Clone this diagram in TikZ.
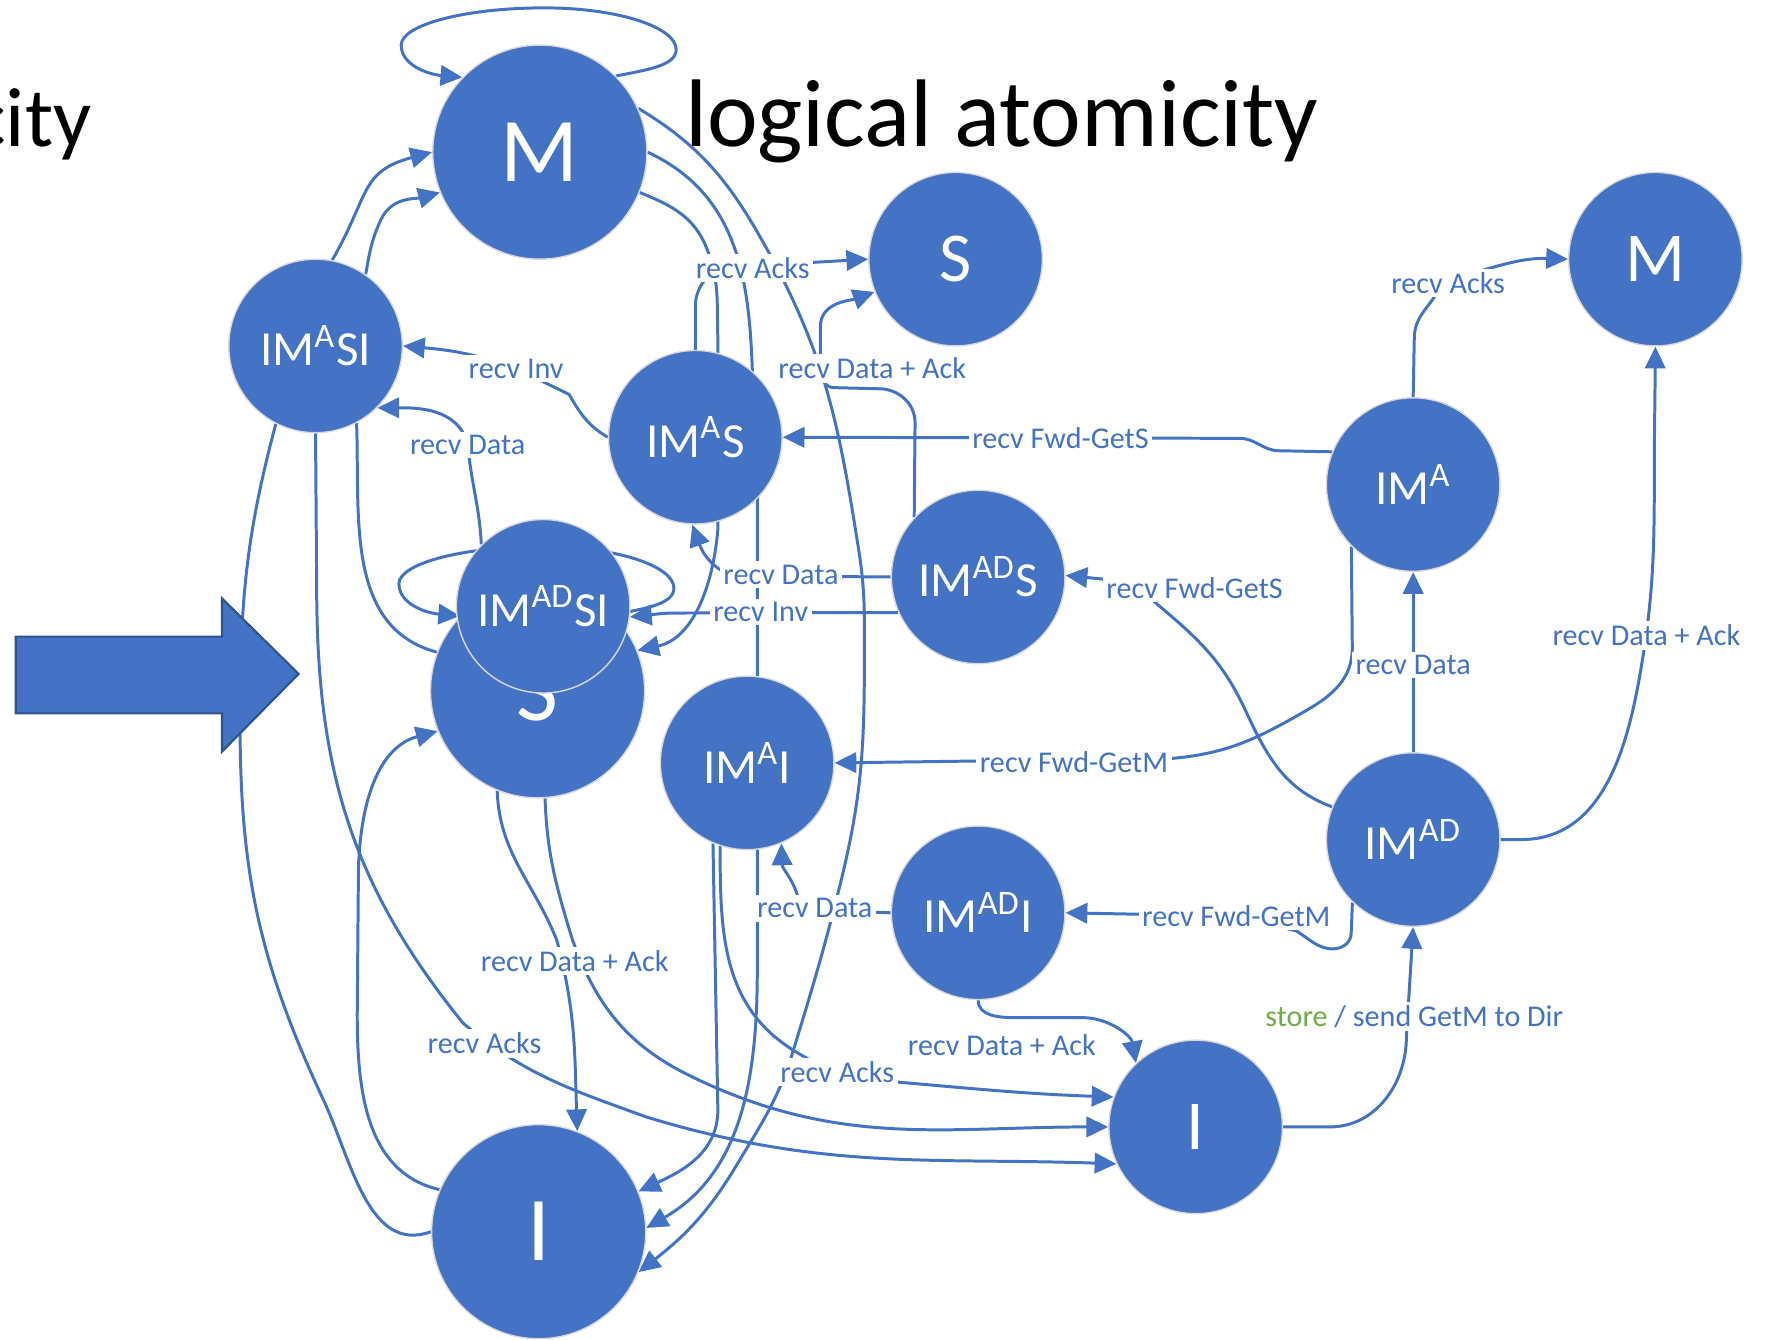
\documentclass[tikz,border=0pt]{standalone}
\usepackage{fontspec}
\setmainfont{Carlito}
\usetikzlibrary{arrows.meta}
\definecolor{nodeblue}{HTML}{4472C4}
\definecolor{darkblue}{HTML}{2F528F}
\definecolor{storegreen}{HTML}{70AD47}
\pgfdeclarelayer{bg}
\pgfsetlayers{bg,main}

\begin{document}
\begin{tikzpicture}[x=0.113mm, y=0.113mm,
  state/.style={circle, fill=nodeblue, draw=white!70!gray, line width=0.4pt, inner sep=0pt, text=white},
  bigst/.style={state, minimum size=21.47mm, font=\fontsize{26}{26}\selectfont},
  smallst/.style={state, minimum size=17.4mm, font=\fontsize{20}{20}\selectfont},
  imst/.style={state, minimum size=17.4mm, font=\fontsize{14}{14}\selectfont},
  lbl/.style={fill=white, inner sep=1pt, text=nodeblue, font=\fontsize{8.6}{9}\selectfont},
  link/.style={draw=nodeblue, line width=0.85pt},
  arr/.style={link, -{Triangle[length=6.2pt,width=5.8pt]}}]
\useasboundingbox (0,0) rectangle (1568,-1189);

% titles
\node[anchor=base west, font=\fontsize{27.4}{27.4}\selectfont] (title) at (597,-130) {logical atomicity};
\node[anchor=base east, font=\fontsize{24}{24}\selectfont] (oldtitle) at (92,-130) {city};

% big arrow
\draw[fill=nodeblue, draw=darkblue, line width=0.6pt] (14,-565) -- (197,-565) -- (197,-531) -- (265,-598)
  -- (197,-667) -- (197,-633) -- (14,-633) -- cycle;

% old states
\node[bigst] (M) at (479,-135) {M};
\node[bigst] (Sbig) at (477,-613) {S};
\node[bigst] (Ibig) at (478,-1093) {I};
% transient states
\node[imst] (IMASI) at (280,-307) {IM\textsuperscript{A}SI};
\node[imst] (IMAS) at (617,-388) {IM\textsuperscript{A}S};
\node[imst] (IMADSI) at (482,-538) {IM\textsuperscript{AD}SI};
\node[imst] (IMAI) at (663,-677) {IM\textsuperscript{A}I};
\node[imst] (IMADS) at (868,-512) {IM\textsuperscript{AD}S};
\node[imst] (IMADI) at (868,-810) {IM\textsuperscript{AD}I};
\node[imst] (IMA) at (1254,-430) {IM\textsuperscript{A}};
\node[imst] (IMAD) at (1254,-745) {IM\textsuperscript{AD}};
% stable states
\node[smallst] (Sr) at (848,-230) {S};
\node[smallst] (Mr) at (1469,-230) {M};
\node[smallst] (Ir) at (1061,-1000) {I};

\begin{pgfonlayer}{bg}
% self loops
\draw[arr] (M.45) .. controls (575,-62) and (600,-58) .. (600,-44)
  .. controls (600,-24) and (548,-7) .. (483,-7)
  .. controls (413,-7) and (356,-22) .. (356,-40)
  .. controls (356,-58) and (380,-66) .. (M.136);
\draw[arr] (Sbig.45) .. controls (573,-540) and (598,-536) .. (598,-522)
  .. controls (598,-502) and (546,-485) .. (481,-485)
  .. controls (411,-485) and (354,-500) .. (354,-518)
  .. controls (354,-536) and (378,-544) .. (Sbig.136);
% into M
\draw[arr] (IMASI.79) to[out=60,in=195,looseness=1.3] (M.180);
\draw[arr] (IMASI.55) to[out=80,in=-115] (338,-195) to[out=65,in=195] (M.202);
% out of M
\draw[arr] (M.24) to[out=-31,in=119] (680,-220) to[out=-61,in=99] (762,-488) to[out=-81,in=90] (767,-590)
  to[out=-90,in=76] (745,-787) to[out=-104,in=73] (704,-932) to[out=-107,in=59] (653,-1035) to[out=-121,in=38] (Ibig.-22);
\draw[arr] (M.0) to[out=-25,in=95] (672,-440) -- (672,-860) to[out=-90,in=30] (Ibig.2);
\draw[arr] (M.-22) to[out=-22,in=112] (627,-220) to[out=-68,in=92] (637,-300) -- (637,-470) to[out=-95,in=12] (Sbig.22);
% left side
\draw[link] (IMASI.-117) to[out=-105,in=90] (213,-640) to[out=-90,in=115] (287,-976) to[out=-65,in=200] (Ibig.180);
\draw[arr] (Ibig.157) to[out=167,in=-90] (317,-900) -- (318,-780) to[out=90,in=195] (Sbig.202);
\draw[arr] (IMASI.-90) -- (281,-520) to[out=-90,in=129] (411,-908) to[out=-40,in=160] (573,-991) to[out=-17,in=178] (Ir.205);
\draw[link] (IMASI.-62) to[out=-88,in=165] (Sbig.159);
\draw[arr] (IMAS.180) to[out=150,in=-60] (505,-350) -- (458,-327) to[out=160,in=-5] (IMASI.0);
\draw[arr] (IMADSI.135) to[out=93,in=-85] (415,-394) to[out=105,in=0] (IMASI.-45);
% below S
\draw[arr] (Sbig.-112) to[out=-88,in=112] (494,-834) to[out=-75,in=92] (Ibig.69);
\draw[arr] (Sbig.-86) to[out=-88,in=107] (508,-834) to[out=-70,in=154] (613,-955) to[out=-26,in=180] (Ir.180);
% IM^A I
\draw[arr] (IMAI.-113) -- (637,-985) to[out=-90,in=25] (Ibig.22);
\draw[arr] (IMAI.-108) to[out=-90,in=148] (704,-932) to[out=-32,in=175] (794,-960) to[out=-5,in=178] (Ir.160);
\draw[arr] (IMADI.180) -- (710,-807) to[out=95,in=-88] (IMAI.-67);
% IM^AD S
\draw[arr] (IMADS.180) -- (650,-511) to[out=160,in=-70] (IMAS.-92);
\draw[arr] (IMADS.204) -- (600,-544) to[out=180,in=5] (IMADSI.-7);
\draw[arr] (IMADS.137) -- (812,-375) to[out=90,in=0] (780,-345) -- (740,-344) to[out=180,in=-90] (728,-320)
  -- (728,-290) to[out=90,in=200] (Sr.202);
\draw[arr] (IMAS.90) -- (617,-272) to[out=90,in=180] (650,-237) -- (Sr.180);
% IM^A
\draw[arr] (IMA.158) -- (1135,-400) to[out=180,in=0] (1100,-389) -- (IMAS.0);
\draw[arr] (IMA.90) -- (1255,-300) to[out=90,in=-110] (1280,-250) to[out=15,in=178] (Mr.180);
\draw[arr] (IMA.-135) -- (1200,-575) to[out=-90,in=30] (1160,-630) to[out=210,in=5] (1040,-673) -- (IMAI.0);
% IM^AD
\draw[arr] (IMAD.90) -- (IMA.-90);
\draw[arr] (IMAD.158) to[out=160,in=-65] (1105,-630) to[out=115,in=-40] (1029,-538) to[out=140,in=0] (990,-515) -- (IMADS.1);
\draw[arr] (IMAD.-134) -- (1199,-828) to[out=-90,in=0] (1183,-842) to[out=180,in=-30] (1150,-826) -- (1097,-813) -- (IMADI.0);
\draw[arr] (IMAD.0) -- (1350,-745) to[out=0,in=-100] (1455,-600) to[out=80,in=-90] (1468,-400) -- (Mr.-90);
% into I
\draw[arr] (Ir.0) -- (1180,-1000) to[out=0,in=-90] (1248,-920) -- (IMAD.-90);
\draw[arr] (IMADI.-90) to[out=-90,in=180] (900,-903) -- (960,-903) to[out=0,in=100] (Ir.133);
\end{pgfonlayer}

% labels
\node[lbl] (lAcksS) at (668,-238) {recv Acks};
\node[lbl] (lDataAckS) at (774,-327) {recv Data + Ack};
\node[lbl] (lInvA) at (458,-327) {recv Inv};
\node[lbl] (lDataA) at (415,-395) {recv Data};
\node[lbl] (lFwdSA) at (941,-389) {recv Fwd-GetS};
\node[lbl] (lAcksM) at (1285,-251) {recv Acks};
\node[lbl] (lDataAS) at (693,-510) {recv Data};
\node[lbl] (lInvAD) at (675,-543) {recv Inv};
\node[lbl] (lFwdSAD) at (1060,-522) {recv Fwd-GetS};
\node[lbl] (lDataIMA) at (1254,-590) {recv Data};
\node[lbl] (lDataAckM) at (1461,-564) {recv Data + Ack};
\node[lbl] (lFwdMA) at (953,-676) {recv Fwd-GetM};
\node[lbl] (lFwdMAD) at (1097,-813) {recv Fwd-GetM};
\node[lbl] (lDataAI) at (723,-806) {recv Data};
\node[lbl] (lDataAckL) at (510,-853) {recv Data + Ack};
\node[lbl] (lStore) at (1255,-902) {\textcolor{storegreen}{store} / send GetM to Dir};
\node[lbl] (lDataAckI) at (889,-927) {recv Data + Ack};
\node[lbl] (lAcksL) at (430,-926) {recv Acks};
\node[lbl] (lAcksAI) at (743,-951) {recv Acks};
\end{tikzpicture}
\end{document}
